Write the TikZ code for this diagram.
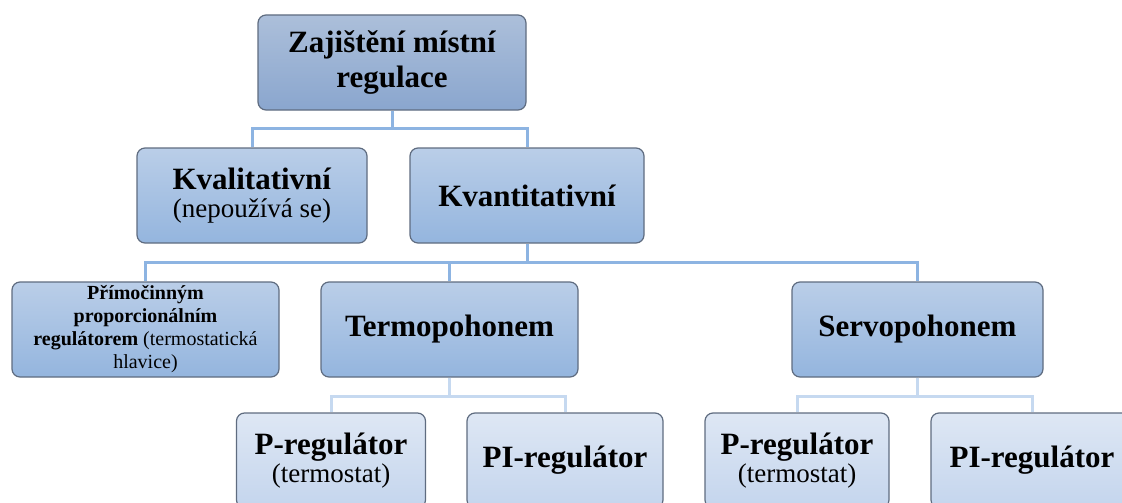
\documentclass[tikz,border=0pt]{standalone}
\usepackage{fontspec}
\setmainfont{Liberation Serif}
\definecolor{boxline}{RGB}{95,108,128}
\definecolor{rootTop}{RGB}{172,191,218}
\definecolor{rootBot}{RGB}{138,166,206}
\definecolor{midTop}{RGB}{186,206,232}
\definecolor{midBot}{RGB}{148,181,222}
\definecolor{lowTop}{RGB}{222,231,244}
\definecolor{lowBot}{RGB}{196,213,237}
\definecolor{connDark}{RGB}{141,180,226}
\definecolor{connLight}{RGB}{198,217,240}
\tikzset{
  box/.style={draw=boxline, line width=1.2pt, rounded corners=8pt, align=center,
    minimum height=95pt, inner sep=2pt},
  rootbox/.style={box, top color=rootTop, bottom color=rootBot},
  midbox/.style={box, top color=midTop, bottom color=midBot},
  lowbox/.style={box, top color=lowTop, bottom color=lowBot},
  velky/.style={font=\fontsize{31}{35}\selectfont\bfseries},
  dvoj/.style={font=\fontsize{31}{28}\selectfont},
  maly/.style={font=\fontsize{20}{23}\selectfont},
  conn/.style={connDark, line width=3pt},
  connlow/.style={connLight, line width=3pt}
}
\newcommand{\stredni}{\fontsize{27}{28}\selectfont}
\begin{document}
\begin{tikzpicture}[x=1pt, y=-1pt]
            \useasboundingbox (0,0) rectangle (1122,503);
            \clip (0,0) rectangle (1122,503);

            % Kořen
            \node[rootbox, velky, minimum width=268pt] (root) at (392,62.5) {Zajištění místní\\regulace};

            % Druhá úroveň
            \node[midbox, dvoj, minimum width=230pt] (kval) at (252,195.5) {\textbf{Kvalitativní}\\\stredni (nepoužívá se)};
            \node[midbox, velky, minimum width=234pt] (kvant) at (527,195.5) {Kvantitativní};

            % Třetí úroveň
            \node[midbox, maly, minimum width=267pt] (prim) at (145.5,329.5) {\textbf{Přímočinným}\\\textbf{proporcionálním}\\\textbf{regulátorem} (termostatická\\hlavice)};
            \node[midbox, velky, minimum width=257pt] (termo) at (449.5,329.5) {Termopohonem};
            \node[midbox, velky, minimum width=251pt] (servo) at (917.5,329.5) {Servopohonem};

            % Čtvrtá úroveň
            \node[lowbox, dvoj, minimum width=189pt] (tp) at (331,460.5) {\textbf{P-regulátor}\\\stredni (termostat)};
            \node[lowbox, velky, minimum width=196pt] (tpi) at (565,460.5) {PI-regulátor};
            \node[lowbox, dvoj, minimum width=184pt] (sp) at (797,460.5) {\textbf{P-regulátor}\\\stredni (termostat)};
            \node[lowbox, velky, minimum width=202pt] (spi) at (1032,460.5) {PI-regulátor};

            % Spojnice
            \draw[conn] (root.south) -- ++(0,18) -| (kval.north);
            \draw[conn] (root.south) -- ++(0,18) -| (kvant.north);
            \draw[conn] (kvant.south) -- ++(0,19) -| (prim.north);
            \draw[conn] (kvant.south) -- ++(0,19) -| (termo.north);
            \draw[conn] (kvant.south) -- ++(0,19) -| (servo.north);
            \draw[connlow] (termo.south) -- ++(0,19) -| (tp.north);
            \draw[connlow] (termo.south) -- ++(0,19) -| (tpi.north);
            \draw[connlow] (servo.south) -- ++(0,19) -| (sp.north);
            \draw[connlow] (servo.south) -- ++(0,19) -| (spi.north);
        \end{tikzpicture}
\end{document}
